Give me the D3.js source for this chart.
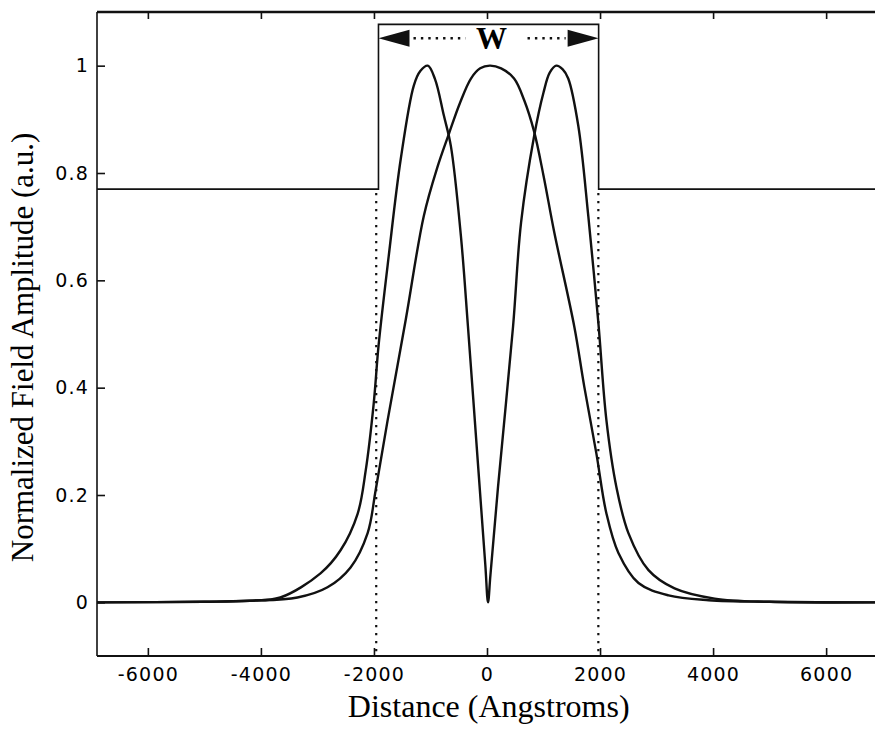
<!DOCTYPE html>
<html>
<head>
<meta charset="utf-8">
<script src="https://cdn.jsdelivr.net/npm/d3@7"></script>
<style>
  body { margin: 0; background: #fff; }
  .axis-title { font-family: "Liberation Serif", "Times New Roman", serif; fill: #000; }
</style>
</head>
<body>
<div id="chart"></div>
<script>
// distance axis (Angstroms) and the two mode profiles
var mode0X = [-6900, -5000, -4200, -3354, -2822, -2414, -2112, -1970, -1757, -1437, -1118, -880, -674, -480, -284, -120, 50,
  250, 479, 660, 834, 1000, 1189, 1544, 1721, 1934, 2112, 2325, 2680, 3212, 3922, 5000, 6900];
var mode0Y = [0, 0.001, 0.003, 0.009, 0.028, 0.065, 0.129, 0.209, 0.34, 0.527, 0.72, 0.81, 0.873, 0.93, 0.976, 0.995, 1.0,
  0.995, 0.976, 0.935, 0.877, 0.795, 0.69, 0.514, 0.402, 0.278, 0.166, 0.092, 0.036, 0.013, 0.004, 0.001, 0];

var mode1X = [-6900, -5000, -4200, -3656, -2946, -2591, -2289, -2147, -2005, -1917, -1739, -1526, -1295, -1180,
  -1047, -920, -763, -639, -461, -337, -160, -30, 18, 60, 195, 461, 603, 834, 1000, 1110, 1224, 1340, 1437,
  1615, 1792, 1970, 2112, 2289, 2502, 2857, 3318, 4028, 5000, 6900];
var mode1Y = [0, 0.001, 0.003, 0.009, 0.054, 0.097, 0.165, 0.245, 0.37, 0.48, 0.645, 0.826, 0.963, 0.99,
  1.0, 0.975, 0.907, 0.85, 0.682, 0.514, 0.258, 0.07, 0.0, 0.05, 0.215, 0.514, 0.708, 0.869, 0.95, 0.987, 1.0, 0.993, 0.976,
  0.888, 0.72, 0.521, 0.34, 0.215, 0.129, 0.06, 0.026, 0.007, 0.001, 0];

// index profile (step) and the waveguide edges
var stepX = [-6900, -1920, -1920, 1975, 1975, 6900];
var stepY = [0.77, 0.77, 1.077, 1.077, 0.77, 0.77];
var edgeX = [-1960, 1970];
var arrowY = 1.051;

// tick labels
var xTicks = [-6000, -4000, -2000, 0, 2000, 4000, 6000];
var yTicks = [0, 0.2, 0.4, 0.6, 0.8, 1];

var svgWidth = 875;
var svgHeight = 730;

var margin = { top: 12, right: -2, bottom: 74, left: 97 };
var width = svgWidth - margin.left - margin.right;
var height = svgHeight - margin.top - margin.bottom;

var svg = d3.select("#chart")
  .append("svg")
  .attr("width", svgWidth)
  .attr("height", svgHeight);

var chartGroup = svg.append("g")
  .attr("transform", `translate(${margin.left}, ${margin.top})`);

var xScale = d3.scaleLinear()
  .domain([-6900, 6900])
  .range([0, width]);

var yScale = d3.scaleLinear()
  .domain([-0.1, 1.1])
  .range([height, 0]);

// bottom axis, ticks pointing in
var bottomAxis = d3.axisBottom(xScale)
  .tickValues(xTicks)
  .tickSizeInner(-8)
  .tickSizeOuter(0)
  .tickPadding(12)
  .tickFormat(d => String(d));

chartGroup.append("g")
  .attr("transform", `translate(0, ${height})`)
  .call(bottomAxis)
  .call(g => g.select(".domain").remove());

// top axis, ticks only
var topAxis = d3.axisBottom(xScale)
  .tickValues(xTicks)
  .tickSizeInner(7)
  .tickSizeOuter(0)
  .tickFormat("");

chartGroup.append("g")
  .call(topAxis)
  .call(g => g.select(".domain").remove());

// left axis
var leftAxis = d3.axisLeft(yScale)
  .tickValues(yTicks)
  .tickSizeInner(-8)
  .tickSizeOuter(0)
  .tickPadding(8)
  .tickFormat(d => String(d));

chartGroup.append("g")
  .call(leftAxis)
  .call(g => g.select(".domain").remove());

chartGroup.selectAll(".tick line")
  .attr("stroke", "#111")
  .attr("stroke-width", 1.6);

// tick label font, set inline so the axis defaults do not win
chartGroup.selectAll(".tick text")
  .style("font-family", "'DejaVu Sans', sans-serif")
  .style("font-size", "19px")
  .style("letter-spacing", "1.2px")
  .style("fill", "#000");

// frame
chartGroup.append("line")
  .attr("x1", 0).attr("x2", width).attr("y1", 0).attr("y2", 0)
  .attr("stroke", "#111").attr("stroke-width", 2.5);
chartGroup.append("line")
  .attr("x1", 0).attr("x2", width).attr("y1", height).attr("y2", height)
  .attr("stroke", "#111").attr("stroke-width", 2);
chartGroup.append("line")
  .attr("x1", 0).attr("x2", 0).attr("y1", 0).attr("y2", height)
  .attr("stroke", "#111").attr("stroke-width", 1.6);

// step profile
var stepLine = d3.line()
  .x(d => xScale(d[0]))
  .y(d => yScale(d[1]));

chartGroup.append("path")
  .datum(stepX.map((x, i) => [x, stepY[i]]))
  .attr("d", stepLine)
  .attr("fill", "none")
  .attr("stroke", "#111")
  .attr("stroke-width", 1.6);

// dotted edges
chartGroup.selectAll(".edge")
  .data(edgeX)
  .enter()
  .append("line")
  .attr("class", "edge")
  .attr("x1", d => xScale(d))
  .attr("x2", d => xScale(d))
  .attr("y1", yScale(0.77) + 4)
  .attr("y2", height)
  .attr("stroke", "#111")
  .attr("stroke-width", 2.2)
  .attr("stroke-dasharray", "2.2,5.8");

// mode curves
var modeLine = d3.line()
  .x(d => xScale(d[0]))
  .y(d => yScale(d[1]))
  .curve(d3.curveCatmullRom.alpha(0.5));

chartGroup.append("path")
  .datum(mode0X.map((x, i) => [x, mode0Y[i]]))
  .attr("d", modeLine)
  .attr("fill", "none")
  .attr("stroke", "#111")
  .attr("stroke-width", 2.4);

chartGroup.append("path")
  .datum(mode1X.map((x, i) => [x, mode1Y[i]]))
  .attr("d", modeLine)
  .attr("fill", "none")
  .attr("stroke", "#111")
  .attr("stroke-width", 2.4);

// width arrow with W label
var ay = yScale(arrowY);
var xl = xScale(stepX[1]);
var xr = xScale(stepX[3]);
var xw = xScale(80);

chartGroup.append("path")
  .attr("d", `M${xl},${ay} L${xl + 31},${ay - 8.5} L${xl + 31},${ay + 8.5} Z`)
  .attr("fill", "#111");
chartGroup.append("path")
  .attr("d", `M${xr},${ay} L${xr - 31},${ay - 8.5} L${xr - 31},${ay + 8.5} Z`)
  .attr("fill", "#111");

chartGroup.append("line")
  .attr("x1", xl + 35).attr("x2", xw - 26).attr("y1", ay).attr("y2", ay)
  .attr("stroke", "#111").attr("stroke-width", 2.4).attr("stroke-dasharray", "2.4,5");
chartGroup.append("line")
  .attr("x1", xw + 36).attr("x2", xr - 33).attr("y1", ay).attr("y2", ay)
  .attr("stroke", "#111").attr("stroke-width", 2.4).attr("stroke-dasharray", "2.4,5");

chartGroup.append("text")
  .attr("class", "axis-title")
  .attr("x", xw)
  .attr("y", ay)
  .attr("dy", "0.35em")
  .attr("text-anchor", "middle")
  .attr("font-size", "31px")
  .attr("font-weight", "bold")
  .text("W");

// axis titles
chartGroup.append("text")
  .attr("class", "axis-title")
  .attr("x", xScale(30))
  .attr("y", height + 61)
  .attr("text-anchor", "middle")
  .attr("font-size", "32px")
  .text("Distance (Angstroms)");

chartGroup.append("text")
  .attr("class", "axis-title")
  .attr("transform", "rotate(-90)")
  .attr("x", -(yScale(0.475)))
  .attr("y", -64)
  .attr("text-anchor", "middle")
  .attr("font-size", "31px")
  .text("Normalized Field Amplitude (a.u.)");
</script>
</body>
</html>
